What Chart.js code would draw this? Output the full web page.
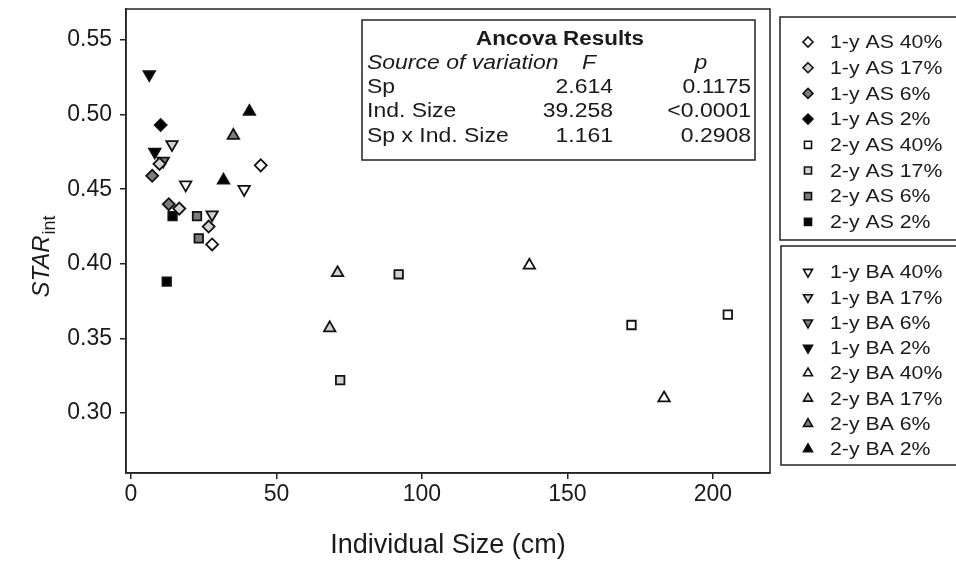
<!DOCTYPE html>
<html>
<head>
<meta charset="utf-8">
<script src="https://cdn.jsdelivr.net/npm/chart.js@4.4.1/dist/chart.umd.min.js"></script>
<style>
  html, body { margin: 0; padding: 0; background: #fff; }
  #wrap { position: relative; width: 956px; height: 569px; }
  canvas { display: block; }
</style>
</head>
<body>
<div id="wrap"><canvas id="c" width="956" height="569"></canvas></div>
<script>
// ---------- data ----------
const X_TICKS = [0, 50, 100, 150, 200];
const Y_TICKS = [0.30, 0.35, 0.40, 0.45, 0.50, 0.55];

const seriesLabels = [
  '1-y AS 40%', '1-y AS 17%', '1-y AS 6%', '1-y AS 2%',
  '2-y AS 40%', '2-y AS 17%', '2-y AS 6%', '2-y AS 2%',
  '1-y BA 40%', '1-y BA 17%', '1-y BA 6%', '1-y BA 2%',
  '2-y BA 40%', '2-y BA 17%', '2-y BA 6%', '2-y BA 2%'
];

// [Individual size (cm), STAR_int]
const as1y40 = [[44.6, 0.466], [27.9, 0.413]];
const as1y17 = [[16.6, 0.437], [26.7, 0.425], [9.8, 0.467]];
const as1y6  = [[13.0, 0.440], [7.3, 0.459]];
const as1y2  = [[10.2, 0.493]];
const as2y40 = [[172.0, 0.359], [205.1, 0.366]];
const as2y17 = [[92.0, 0.393], [71.9, 0.322]];
const as2y6  = [[22.7, 0.432], [23.3, 0.417]];
const as2y2  = [[14.3, 0.432], [12.3, 0.388]];
const ba1y40 = [[18.8, 0.453], [38.9, 0.450]];
const ba1y17 = [[14.1, 0.480], [27.9, 0.433]];
const ba1y6  = [[11.1, 0.469]];
const ba1y2  = [[6.3, 0.527], [8.2, 0.475]];
const ba2y40 = [[183.2, 0.310], [136.9, 0.399]];
const ba2y17 = [[68.3, 0.357], [71.0, 0.394]];
const ba2y6  = [[35.2, 0.486]];
const ba2y2  = [[40.7, 0.502], [31.8, 0.456]];

const seriesData = [as1y40, as1y17, as1y6, as1y2, as2y40, as2y17, as2y6, as2y2,
                    ba1y40, ba1y17, ba1y6, ba1y2, ba2y40, ba2y17, ba2y6, ba2y2];

const ancovaRows = [
  ['Sp', '2.614', '0.1175'],
  ['Ind. Size', '39.258', '<0.0001'],
  ['Sp x Ind. Size', '1.161', '0.2908']
];

// ---------- styles ----------
const FILLS = ['#ffffff', '#d2d2d2', '#7c7c7c', '#000000'];
const FONT = '"Liberation Sans", Arial, Helvetica, sans-serif';
const INK = '#1a1a1a';
const STRETCH = 1.12;

function styleFor(i) {
  const group = Math.floor(i / 4);
  const fill = FILLS[i % 4];
  if (group === 0) return { pointStyle: 'rectRot', rotation: 0, radius: 6, fill };
  if (group === 1) return { pointStyle: 'rect', rotation: 0, radius: 6, fill };
  if (group === 2) return { pointStyle: 'triangle', rotation: 180, radius: 6.6, fill };
  return { pointStyle: 'triangle', rotation: 0, radius: 6.6, fill };
}

const datasets = seriesData.map((pts, i) => {
  const s = styleFor(i);
  return {
    label: seriesLabels[i],
    data: pts.map(p => ({ x: p[0], y: p[1] })),
    pointStyle: s.pointStyle,
    rotation: s.rotation,
    pointRadius: s.radius,
    pointHoverRadius: s.radius,
    pointBackgroundColor: s.fill,
    pointBorderColor: '#111',
    pointBorderWidth: 1.8,
    showLine: false
  };
});

function drawMarker(ctx, style, x, y, r) {
  ctx.save();
  ctx.fillStyle = style.fill;
  ctx.strokeStyle = '#111';
  ctx.lineWidth = 1.6;
  ctx.beginPath();
  if (style.pointStyle === 'rectRot') {
    ctx.moveTo(x, y - r); ctx.lineTo(x + r, y); ctx.lineTo(x, y + r); ctx.lineTo(x - r, y); ctx.closePath();
  } else if (style.pointStyle === 'rect') {
    const h = r * Math.SQRT1_2;
    ctx.rect(x - h, y - h, 2 * h, 2 * h);
  } else {
    const rad = style.rotation * Math.PI / 180;
    for (let k = 0; k < 3; k++) {
      const a = rad + k * 2 * Math.PI / 3;
      const px = x + Math.sin(a) * r, py = y - Math.cos(a) * r;
      if (k === 0) ctx.moveTo(px, py); else ctx.lineTo(px, py);
    }
    ctx.closePath();
  }
  ctx.fill();
  ctx.stroke();
  ctx.restore();
}

// text drawn slightly wide, like the scanned original
function wideText(ctx, text, x, y, align) {
  ctx.save();
  const w = ctx.measureText(text).width * STRETCH;
  let left = x;
  if (align === 'center') left = x - w / 2;
  else if (align === 'right') left = x - w;
  ctx.translate(left, y);
  ctx.scale(STRETCH, 1);
  ctx.textAlign = 'left';
  ctx.fillText(text, 0, 0);
  ctx.restore();
}

const decor = {
  id: 'decor',
  afterDraw(chart) {
    const ctx = chart.ctx;
    const a = chart.chartArea;
    ctx.save();
    ctx.strokeStyle = '#222';
    ctx.lineWidth = 1.5;
    ctx.strokeRect(a.left, a.top, a.right - a.left, a.bottom - a.top);

    // y axis title
    ctx.save();
    ctx.translate(41, 257);
    ctx.rotate(-Math.PI / 2);
    ctx.fillStyle = INK;
    ctx.textBaseline = 'alphabetic';
    ctx.font = 'italic 24px ' + FONT;
    const w1 = ctx.measureText('STAR').width;
    ctx.font = '18px ' + FONT;
    const w2 = ctx.measureText('int').width;
    const start = -(w1 + w2) / 2;
    ctx.font = 'italic 24px ' + FONT;
    ctx.textAlign = 'left';
    ctx.fillText('STAR', start, 8);
    ctx.font = '18px ' + FONT;
    ctx.fillText('int', start + w1 + 1, 14);
    ctx.restore();

    // ANCOVA box
    ctx.fillStyle = '#fff';
    ctx.fillRect(362, 20, 393, 140);
    ctx.strokeStyle = '#222';
    ctx.lineWidth = 1.5;
    ctx.strokeRect(362, 20, 393, 140);
    ctx.fillStyle = INK;
    ctx.textBaseline = 'middle';
    ctx.font = 'bold 20px ' + FONT;
    wideText(ctx, 'Ancova Results', 560, 39, 'center');
    ctx.font = 'italic 20.5px ' + FONT;
    wideText(ctx, 'Source of variation', 367, 63, 'left');
    wideText(ctx, 'F', 589, 63, 'center');
    wideText(ctx, 'p', 701, 63, 'center');
    ctx.font = '20.5px ' + FONT;
    ancovaRows.forEach((r, k) => {
      const y = 87 + k * 24.5;
      wideText(ctx, r[0], 367, y, 'left');
      wideText(ctx, r[1], 613, y, 'right');
      wideText(ctx, r[2], 751, y, 'right');
    });

    // legends
    ctx.strokeStyle = '#222';
    ctx.lineWidth = 1.5;
    ctx.strokeRect(780, 17, 190, 223);
    ctx.strokeRect(781, 246, 190, 219);
    ctx.font = '19px ' + FONT;
    ctx.textBaseline = 'middle';
    for (let i = 0; i < 16; i++) {
      const y = i < 8 ? 42 + i * 25.7 : 272 + (i - 8) * 25.3;
      const s = styleFor(i);
      const r = s.pointStyle === 'triangle' ? 5.2 : 5;
      drawMarker(ctx, s, 808, y, r);
      ctx.fillStyle = INK;
      wideText(ctx, seriesLabels[i], 830, y + 1, 'left');
    }
    ctx.restore();
  }
};

new Chart(document.getElementById('c'), {
  type: 'scatter',
  data: { datasets },
  options: {
    responsive: false,
    animation: false,
    events: [],
    layout: { padding: { left: 0, top: 9, right: 186, bottom: 0 } },
    plugins: { legend: { display: false }, tooltip: { enabled: false } },
    scales: {
      x: {
        type: 'linear',
        min: -1.7,
        max: 219.6,
        afterBuildTicks(scale) { scale.ticks = X_TICKS.map(v => ({ value: v })); },
        afterFit(scale) { scale.height = 96; scale.paddingLeft = 0; scale.paddingRight = 0; },
        grid: { display: true, drawOnChartArea: false, drawTicks: true, tickLength: 6, color: '#222', lineWidth: 1.5 },
        border: { display: true, color: '#222', width: 1.5 },
        ticks: { color: INK, font: { family: FONT, size: 23 }, padding: 2, maxRotation: 0,
                 callback: v => String(v) },
        title: { display: true, text: 'Individual Size (cm)', color: INK,
                 font: { family: FONT, size: 27 }, padding: { top: 0, bottom: 7 } }
      },
      y: {
        type: 'linear',
        min: 0.2598,
        max: 0.5708,
        afterBuildTicks(scale) { scale.ticks = Y_TICKS.map(v => ({ value: v })); },
        afterFit(scale) { scale.width = 126; scale.paddingTop = 0; scale.paddingBottom = 0; },
        grid: { display: true, drawOnChartArea: false, drawTicks: true, tickLength: 6, color: '#222', lineWidth: 1.5 },
        border: { display: true, color: '#222', width: 1.5 },
        ticks: { color: INK, font: { family: FONT, size: 23 }, padding: 8,
                 callback: v => v.toFixed(2) }
      }
    }
  },
  plugins: [decor]
});
</script>
</body>
</html>
